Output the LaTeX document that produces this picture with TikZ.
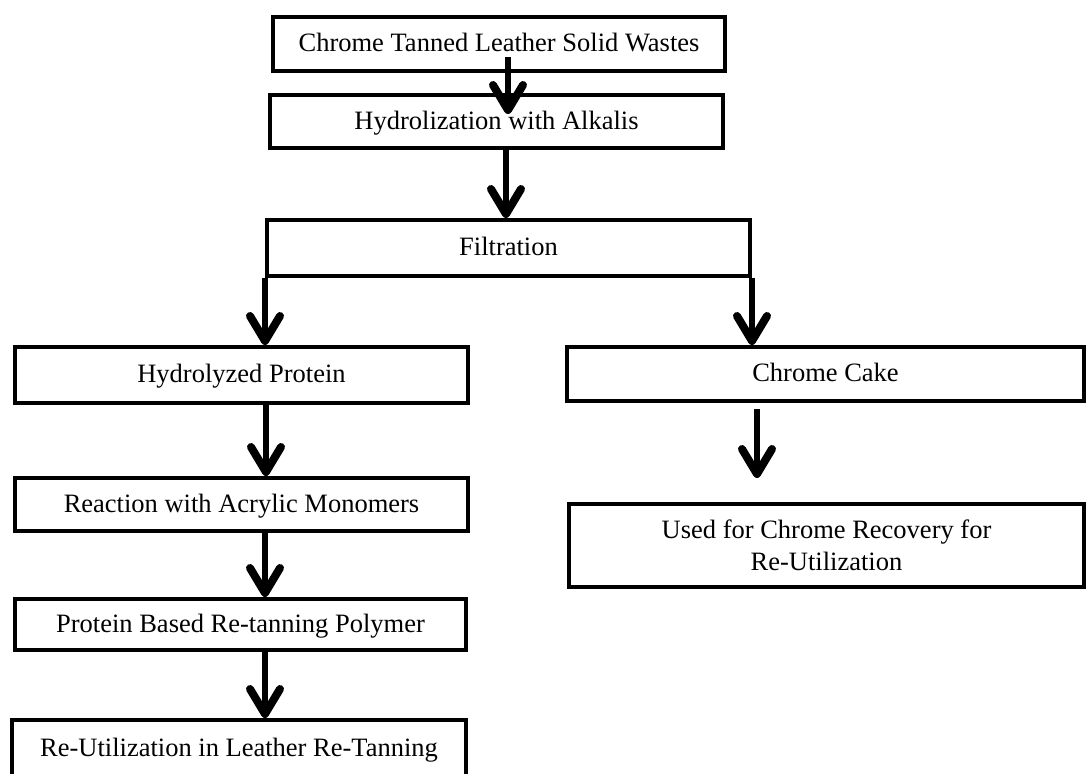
\documentclass[tikz,border=0pt]{standalone}
\usepackage{fontspec}
\setmainfont{Liberation Serif}
\usetikzlibrary{arrows.meta}
\begin{document}
\begin{tikzpicture}[x=1pt,y=-1pt,
  box/.style={draw=black, line width=4pt, fill=white, anchor=center, inner sep=0pt,
    font=\fontsize{26.5}{32}\selectfont, text height=19pt, text depth=4pt},
  arr/.style={line width=6pt, -{Straight Barb[round,length=25pt,width=30pt,line width=2pt 1]}}]
\useasboundingbox (0,0) rectangle (1088,774);
\fill[white] (0,0) rectangle (1088,774);
% boxes
\node[box, minimum width=452pt, minimum height=54pt] (b1) at (499,44) {Chrome Tanned Leather Solid Wastes};
\node[box, minimum width=453pt, minimum height=53pt] (b2) at (496.5,121.5) {Hydrolization with Alkalis};
\node[box, minimum width=483pt, minimum height=56pt] (filt) at (508.5,248) {Filtration};
\node[box, minimum width=453pt, minimum height=56pt] (hp) at (241.5,375) {Hydrolyzed Protein};
\node[box, minimum width=517pt, minimum height=54pt] (cc) at (825.5,374) {Chrome Cake};
\node[box, minimum width=453pt, minimum height=53pt] (rx) at (241.5,504.5) {Reaction with Acrylic Monomers};
\node[box, minimum width=451pt, minimum height=51pt] (pb) at (240.5,624.5) {Protein Based Re-tanning Polymer};
\node[box, minimum width=454pt, minimum height=58pt] (ru) at (239,749) {Re-Utilization in Leather Re-Tanning};
\node[box, minimum width=515pt, minimum height=83pt, align=center, text height=, text depth=] (used) at (826.5,545) {Used for Chrome Recovery for\\Re-Utilization};
\coordinate (ccend) at (757,478);
% connectors
\draw[arr] ([xshift=9pt,yshift=16pt]b1.south) -- ([xshift=11.5pt,yshift=-21pt]b2.north);
\draw[arr] ([xshift=9.5pt]b2.south) -- ([xshift=-2.5pt]filt.north);
\draw[arr] (filt.south west) -- (filt.south west |- hp.north);
\draw[arr] (filt.south east) -- (filt.south east |- cc.north);
\draw[arr] ([xshift=24.5pt]hp.south) -- ([xshift=24.5pt]rx.north);
\draw[arr] ([xshift=23.5pt]rx.south) -- ([xshift=24.5pt]pb.north);
\draw[arr] ([xshift=24.5pt]pb.south) -- ([xshift=26pt]ru.north);
\draw[arr] ([xshift=-68.5pt,yshift=-6pt]cc.south) -- (ccend);
\end{tikzpicture}
\end{document}
